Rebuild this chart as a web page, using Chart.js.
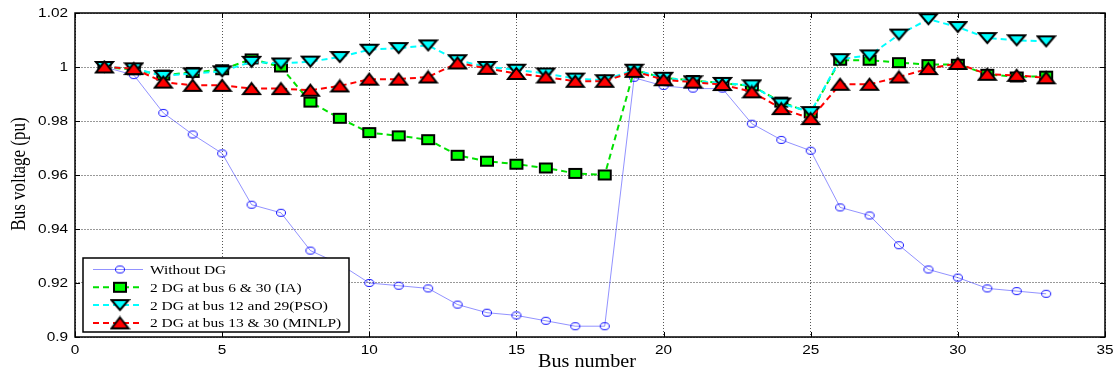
<!DOCTYPE html>
<html>
<head>
<meta charset="utf-8">
<script src="https://cdn.jsdelivr.net/npm/chart.js@4"></script>
<style>
  html, body { margin: 0; padding: 0; background: #fff; }
  #wrap { width: 1115px; height: 379px; }
</style>
</head>
<body>
<div id="wrap"><canvas id="c" width="1115" height="379"></canvas></div>
<script>
// Bus numbers of the 33-bus feeder
const buses = [1,2,3,4,5,6,7,8,9,10,11,12,13,14,15,16,17,18,19,20,21,22,23,24,25,26,27,28,29,30,31,32,33];

// Voltage profiles (pu)
const withoutDG = [1.000,0.997,0.983,0.975,0.968,0.949,0.946,0.932,0.927,0.920,0.919,0.918,0.912,0.909,0.908,0.906,0.904,0.904,
                   0.996,0.993,0.992,0.992,0.979,0.973,0.969,0.948,0.945,0.934,0.925,0.922,0.918,0.917,0.916];
const dgIA    = [1.000,0.999,0.997,0.998,0.999,1.003,1.000,0.987,0.981,0.9757,0.9745,0.9731,0.9673,0.9651,0.964,0.9626,0.9606,0.960,
                 0.9988,0.996,0.995,0.994,0.993,0.987,0.983,1.0025,1.0025,1.0016,1.0009,1.001,0.9973,0.9963,0.9966];
const dgPSO   = [1.000,0.9995,0.9967,0.9976,0.9984,1.0019,1.0013,1.002,1.0037,1.0064,1.007,1.008,1.0025,1.000,0.999,0.9976,0.9957,0.9951,
                 0.999,0.996,0.9947,0.9941,0.9932,0.9865,0.9833,1.0029,1.0043,1.012,1.0177,1.0148,1.0107,1.0099,1.0095];
const dgMINLP = [1.000,0.9994,0.9944,0.9932,0.9932,0.992,0.992,0.9914,0.993,0.9955,0.9955,0.9963,1.0015,0.9995,0.9976,0.9963,0.9947,0.9947,
                 0.9984,0.9953,0.9944,0.9935,0.9908,0.9846,0.9809,0.9936,0.9936,0.9963,0.9994,1.0013,0.9973,0.9969,0.996];

// Axis ticks
const xTicks = [0,5,10,15,20,25,30,35];
const yTicks = [0.9,0.92,0.94,0.96,0.98,1,1.02];

const seriesNames = ['Without DG','2 DG at bus 6 & 30 (IA)','2 DG at bus 12 and 29(PSO)','2 DG at bus 13 & 30 (MINLP)'];

const toXY = arr => arr.map((v, i) => ({ x: buses[i], y: v }));

// Marker sprites (slightly wider than tall)
function makeMarker(kind, w, h, fill, stroke, lw) {
  const c = document.createElement('canvas');
  c.width = w + 2; c.height = h + 2;
  const g = c.getContext('2d');
  const i = lw / 2 + 1;
  const L = i, R = w + 2 - i, T = i, B = h + 2 - i, cx = (w + 2) / 2, cy = (h + 2) / 2;
  g.lineWidth = lw;
  g.lineJoin = 'miter';
  g.beginPath();
  if (kind === 'ellipse') g.ellipse(cx, cy, (R - L) / 2, (B - T) / 2, 0, 0, Math.PI * 2);
  else if (kind === 'rect') g.rect(L, T, R - L, B - T);
  else if (kind === 'up') { g.moveTo(cx, T); g.lineTo(R, B); g.lineTo(L, B); g.closePath(); }
  else if (kind === 'down') { g.moveTo(L, T); g.lineTo(R, T); g.lineTo(cx, B); g.closePath(); }
  if (fill) { g.fillStyle = fill; g.fill(); }
  g.strokeStyle = stroke; g.stroke();
  return c;
}
const mkCircle = makeMarker('ellipse', 10, 8, null, '#1010ff', 1);
const mkSquare = makeMarker('rect', 14, 11, '#00ff00', '#000', 2);
const mkDown   = makeMarker('down', 19, 12, '#00ffff', '#000', 2);
const mkUp     = makeMarker('up', 19, 13, '#ff0000', '#000', 2);

// Text drawn with a horizontal stretch
function drawText(ctx, text, x, y, opt) {
  ctx.save();
  ctx.translate(x, y);
  if (opt.rotate) { ctx.rotate(-Math.PI / 2); ctx.scale(1, opt.sx); }
  else ctx.scale(opt.sx, 1);
  ctx.font = opt.font;
  ctx.fillStyle = '#000';
  ctx.textAlign = opt.align || 'left';
  ctx.textBaseline = opt.baseline || 'middle';
  ctx.fillText(text, 0, 0);
  ctx.restore();
}

const SANS = '"Liberation Sans", Arial, Helvetica, sans-serif';
const SERIF = '"Liberation Serif", "Times New Roman", serif';
const fmt = v => String(parseFloat(v.toFixed(2)));

// Frame with inward tick marks, tick labels and axis titles
const framePlugin = {
  id: 'frame',
  afterDatasetsDraw(chart) {
    const { ctx, chartArea: a, scales } = chart;
    ctx.save();
    ctx.strokeStyle = '#000';
    ctx.lineWidth = 1.5;
    ctx.strokeRect(a.left, a.top, a.right - a.left, a.bottom - a.top);
    ctx.lineWidth = 1;
    const L = 5;
    ctx.beginPath();
    xTicks.forEach(t => {
      const px = Math.round(scales.x.getPixelForValue(t)) + 0.5;
      ctx.moveTo(px, a.bottom); ctx.lineTo(px, a.bottom - L);
      ctx.moveTo(px, a.top); ctx.lineTo(px, a.top + L);
    });
    yTicks.forEach(t => {
      const py = Math.round(scales.y.getPixelForValue(t)) + 0.5;
      ctx.moveTo(a.left, py); ctx.lineTo(a.left + L, py);
      ctx.moveTo(a.right, py); ctx.lineTo(a.right - L, py);
    });
    ctx.stroke();
    ctx.restore();

    const tickFont = '12px ' + SANS;
    xTicks.forEach(t => drawText(ctx, fmt(t), scales.x.getPixelForValue(t), a.bottom + 14,
      { sx: 1.28, font: tickFont, align: 'center' }));
    yTicks.forEach(t => drawText(ctx, fmt(t), a.left - 7, scales.y.getPixelForValue(t) + 1,
      { sx: 1.28, font: tickFont, align: 'right' }));

    drawText(ctx, 'Bus number', (a.left + a.right) / 2 - 3, 367,
      { sx: 1.12, font: '18px ' + SERIF, align: 'center', baseline: 'alphabetic' });
    drawText(ctx, 'Bus voltage (pu)', 19.5, (a.top + a.bottom) / 2 - 1,
      { sx: 1.28, rotate: true, font: '17px ' + SERIF, align: 'center' });
  }
};

// Boxed legend with line samples and markers, lower left of the plot
const boxLegendPlugin = {
  id: 'boxLegend',
  afterDraw(chart) {
    const { ctx, chartArea: a } = chart;
    const x0 = a.left + 8, y0 = a.bottom - 79, w = 266, h = 74;
    ctx.save();
    ctx.fillStyle = '#fff';
    ctx.fillRect(x0, y0, w, h);
    ctx.strokeStyle = '#000';
    ctx.lineWidth = 1.5;
    ctx.strokeRect(x0, y0, w, h);
    chart.data.datasets.forEach((ds, i) => {
      const cy = y0 + 11.5 + i * 17.8;
      ctx.save();
      ctx.strokeStyle = ds.borderColor;
      ctx.lineWidth = ds.borderWidth;
      ctx.setLineDash(ds.borderDash || []);
      ctx.beginPath();
      ctx.moveTo(x0 + 10, cy); ctx.lineTo(x0 + 60, cy);
      ctx.stroke();
      ctx.restore();
      const m = ds.pointStyle;
      ctx.drawImage(m, x0 + 37 - m.width / 2, cy - m.height / 2);
      drawText(ctx, seriesNames[i], x0 + 67, cy + 1, { sx: 1.19, font: '13px ' + SERIF });
    });
    ctx.restore();
  }
};

new Chart(document.getElementById('c'), {
  type: 'line',
  data: {
    datasets: [
      {
        label: seriesNames[0], data: toXY(withoutDG), order: 3,
        borderColor: 'rgba(60,60,255,0.7)', borderWidth: 0.8,
        pointStyle: mkCircle, pointRadius: 5
      },
      {
        label: seriesNames[1], data: toXY(dgIA), order: 2,
        borderColor: '#00e000', borderWidth: 2, borderDash: [6, 4],
        pointStyle: mkSquare, pointRadius: 7
      },
      {
        label: seriesNames[2], data: toXY(dgPSO), order: 1,
        borderColor: '#00ffff', borderWidth: 2, borderDash: [6, 4],
        pointStyle: mkDown, pointRadius: 8
      },
      {
        label: seriesNames[3], data: toXY(dgMINLP), order: 0,
        borderColor: '#ff0000', borderWidth: 2, borderDash: [6, 4],
        pointStyle: mkUp, pointRadius: 8
      }
    ]
  },
  options: {
    responsive: false,
    animation: false,
    events: [],
    layout: { padding: { left: 0, top: 13, right: 10, bottom: 0 } },
    plugins: { legend: { display: false }, tooltip: { enabled: false } },
    elements: { line: { tension: 0 } },
    scales: {
      x: {
        type: 'linear', min: 0, max: 35,
        afterBuildTicks: s => { s.ticks = xTicks.map(v => ({ value: v })); },
        afterFit: s => { s.height = 42; },
        grid: { color: '#555', lineWidth: 1, drawTicks: false },
        border: { display: false, dash: [1, 2] },
        ticks: { display: false }
      },
      y: {
        type: 'linear', min: 0.9, max: 1.02,
        afterBuildTicks: s => { s.ticks = yTicks.map(v => ({ value: v })); },
        afterFit: s => { s.width = 75; },
        grid: { color: '#999', lineWidth: 1, drawTicks: false },
        border: { display: false, dash: [2, 1] },
        ticks: { display: false }
      }
    }
  },
  plugins: [framePlugin, boxLegendPlugin]
});
</script>
</body>
</html>
